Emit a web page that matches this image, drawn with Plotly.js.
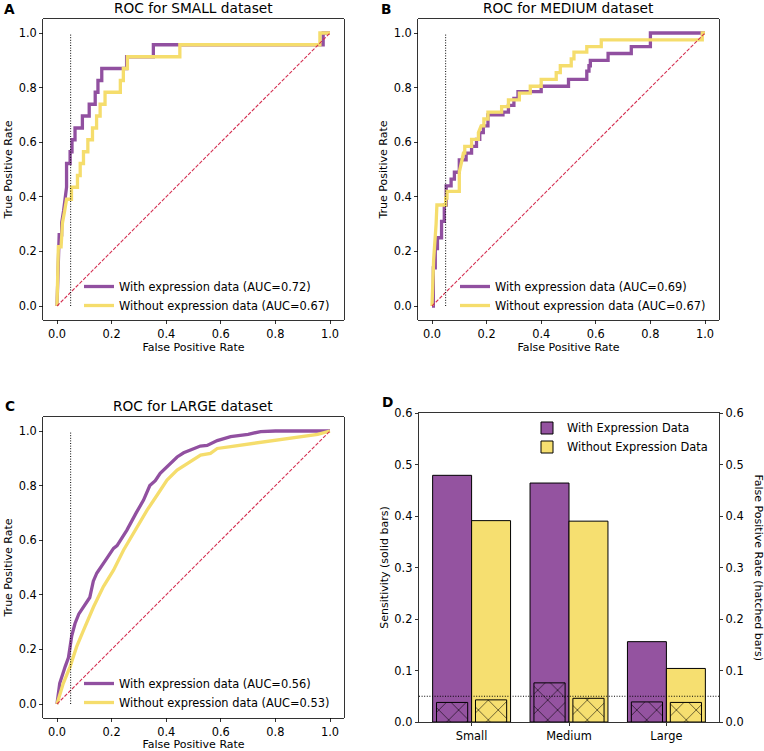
<!DOCTYPE html>
<html>
<head>
<meta charset="utf-8">
<script src="https://cdn.plot.ly/plotly-3.0.1.min.js"></script>
<style>html,body{margin:0;padding:0;background:#fff;}#chart{width:764px;height:751px;}</style>
</head>
<body>
<div id="chart"></div>
<script>
// ---------------- Data ----------------
const panelLetters = ['A', 'B', 'C', 'D'];
const rocTitles = ['ROC for SMALL dataset', 'ROC for MEDIUM dataset', 'ROC for LARGE dataset'];
const seriesWith = 'With expression data';
const seriesWithout = 'Without expression data';
const aucWith = [0.72, 0.69, 0.56];
const aucWithout = [0.67, 0.67, 0.53];
const xTitle = 'False Positive Rate';
const yTitle = 'True Positive Rate';
const fprThreshold = 0.05;
const diagX = [0, 1];
const diagY = [0, 1];

// Panel A (SMALL)
const smallWithFpr = [0, 0.004, 0.008, 0.017, 0.017, 0.024, 0.03, 0.035, 0.035, 0.048, 0.048, 0.055, 0.055, 0.066, 0.066, 0.093, 0.093, 0.118, 0.118, 0.14, 0.14, 0.15, 0.15, 0.164, 0.164, 0.255, 0.255, 0.353, 0.353, 0.975, 0.975, 1.0];
const smallWithTpr = [0, 0.13, 0.261, 0.261, 0.304, 0.348, 0.391, 0.435, 0.522, 0.522, 0.565, 0.565, 0.609, 0.609, 0.652, 0.652, 0.696, 0.696, 0.739, 0.739, 0.783, 0.783, 0.826, 0.826, 0.87, 0.87, 0.913, 0.913, 0.957, 0.957, 1.0, 1.0];
const smallWithoutFpr = [0, 0.005, 0.015, 0.02, 0.028, 0.035, 0.053, 0.053, 0.075, 0.075, 0.085, 0.085, 0.097, 0.097, 0.113, 0.113, 0.13, 0.13, 0.145, 0.145, 0.158, 0.158, 0.176, 0.176, 0.232, 0.232, 0.243, 0.243, 0.258, 0.258, 0.45, 0.45, 0.963, 0.963, 1.0];
const smallWithoutTpr = [0, 0.217, 0.217, 0.304, 0.348, 0.391, 0.391, 0.435, 0.435, 0.478, 0.478, 0.522, 0.522, 0.565, 0.565, 0.609, 0.609, 0.652, 0.652, 0.696, 0.696, 0.739, 0.739, 0.783, 0.783, 0.826, 0.826, 0.87, 0.87, 0.913, 0.913, 0.957, 0.957, 1.0, 1.0];

// Panel B (MEDIUM)
const mediumWithFpr = [0, 0.005, 0.005, 0.012, 0.012, 0.02, 0.02, 0.035, 0.035, 0.045, 0.045, 0.052, 0.052, 0.07, 0.07, 0.082, 0.082, 0.10, 0.10, 0.125, 0.125, 0.145, 0.145, 0.163, 0.163, 0.175, 0.175, 0.188, 0.188, 0.205, 0.205, 0.26, 0.26, 0.28, 0.28, 0.30, 0.30, 0.315, 0.315, 0.40, 0.40, 0.50, 0.50, 0.567, 0.567, 0.575, 0.575, 0.58, 0.58, 0.645, 0.645, 0.73, 0.73, 0.80, 0.80, 1.0];
const mediumWithTpr = [0, 0, 0.14, 0.14, 0.21, 0.21, 0.25, 0.25, 0.31, 0.31, 0.37, 0.37, 0.44, 0.44, 0.465, 0.465, 0.49, 0.49, 0.535, 0.535, 0.56, 0.56, 0.585, 0.585, 0.61, 0.61, 0.635, 0.635, 0.66, 0.66, 0.70, 0.70, 0.71, 0.71, 0.735, 0.735, 0.76, 0.76, 0.785, 0.785, 0.805, 0.805, 0.83, 0.83, 0.86, 0.86, 0.88, 0.88, 0.90, 0.90, 0.925, 0.925, 0.95, 0.95, 1.0, 1.0];
const mediumWithoutFpr = [0, 0.006, 0.015, 0.018, 0.05, 0.05, 0.055, 0.055, 0.10, 0.10, 0.11, 0.115, 0.12, 0.12, 0.145, 0.145, 0.17, 0.17, 0.18, 0.19, 0.19, 0.205, 0.205, 0.255, 0.255, 0.28, 0.28, 0.32, 0.32, 0.36, 0.36, 0.40, 0.40, 0.455, 0.455, 0.47, 0.47, 0.51, 0.51, 0.52, 0.52, 0.567, 0.567, 0.62, 0.62, 0.99, 0.99, 1.0];
const mediumWithoutTpr = [0, 0.17, 0.30, 0.37, 0.37, 0.395, 0.395, 0.42, 0.42, 0.49, 0.535, 0.56, 0.56, 0.585, 0.585, 0.61, 0.61, 0.635, 0.66, 0.66, 0.685, 0.685, 0.71, 0.71, 0.73, 0.73, 0.755, 0.755, 0.78, 0.78, 0.805, 0.805, 0.83, 0.83, 0.855, 0.855, 0.88, 0.88, 0.905, 0.905, 0.93, 0.93, 0.95, 0.95, 0.975, 0.975, 1.0, 1.0];

// Panel C (LARGE)
const largeWithFpr = [0, 0.01, 0.03, 0.042, 0.054, 0.066, 0.08, 0.097, 0.12, 0.133, 0.146, 0.18, 0.207, 0.22, 0.256, 0.29, 0.317, 0.34, 0.36, 0.378, 0.415, 0.44, 0.464, 0.49, 0.525, 0.55, 0.587, 0.636, 0.7, 0.746, 0.8, 0.9, 1.0];
const largeWithTpr = [0, 0.076, 0.137, 0.17, 0.25, 0.295, 0.33, 0.356, 0.39, 0.45, 0.48, 0.53, 0.57, 0.58, 0.637, 0.70, 0.747, 0.80, 0.818, 0.845, 0.88, 0.905, 0.92, 0.93, 0.945, 0.947, 0.965, 0.979, 0.988, 0.998, 1.0, 1.0, 1.0];
const largeWithoutFpr = [0, 0.023, 0.048, 0.072, 0.097, 0.134, 0.17, 0.207, 0.244, 0.28, 0.33, 0.37, 0.403, 0.44, 0.49, 0.526, 0.562, 0.587, 0.636, 0.7, 0.746, 0.8, 0.857, 0.955, 1.0];
const largeWithoutTpr = [0, 0.076, 0.137, 0.21, 0.27, 0.356, 0.43, 0.49, 0.564, 0.625, 0.71, 0.77, 0.82, 0.857, 0.89, 0.912, 0.918, 0.936, 0.943, 0.952, 0.96, 0.967, 0.975, 0.988, 1.0];

// Panel D (bars)
const barCategories = ['Small', 'Medium', 'Large'];
const barSeriesWith = 'With Expression Data';
const barSeriesWithout = 'Without Expression Data';
const sensitivityWith = [0.479, 0.464, 0.156];
const sensitivityWithout = [0.391, 0.390, 0.104];
const fprWith = [0.038, 0.076, 0.039];
const fprWithout = [0.043, 0.046, 0.038];
const leftTitleD = 'Sensitivity (solid bars)';
const rightTitleD = 'False Positive Rate (hatched bars)';

// ---------------- Style ----------------
const W = 764, H = 751;
const FONT = 'DejaVu Sans';
const PURPLE = '#9453a0';
const YELLOW = '#f6df70';
const PURPLE_LINE = '#9150a0';
const YELLOW_LINE = '#f5dd6c';
const DIAG = 'rgb(212,48,82)';
const TICK_SIZE = 11.4;
const LABEL_SIZE = 11;

function px2x(p) { return p / W; }
function px2y(p) { return 1 - p / H; }

const rocPanels = [
  { wf: smallWithFpr, wt: smallWithTpr, of: smallWithoutFpr, ot: smallWithoutTpr },
  { wf: mediumWithFpr, wt: mediumWithTpr, of: mediumWithoutFpr, ot: mediumWithoutTpr },
  { wf: largeWithFpr, wt: largeWithTpr, of: largeWithoutFpr, ot: largeWithoutTpr }
];
const axSuffix = ['', '2', '3'];
const legendIds = ['legend', 'legend2', 'legend3'];

const traces = [];
rocPanels.forEach((p, i) => {
  const xa = 'x' + axSuffix[i], ya = 'y' + axSuffix[i];
  traces.push({
    type: 'scatter', mode: 'lines', x: p.wf, y: p.wt, xaxis: xa, yaxis: ya,
    name: seriesWith + ' (AUC=' + aucWith[i].toFixed(2) + ')',
    line: { color: PURPLE_LINE, width: 3.3 }, legend: legendIds[i], showlegend: true
  });
  traces.push({
    type: 'scatter', mode: 'lines', x: p.of, y: p.ot, xaxis: xa, yaxis: ya,
    name: seriesWithout + ' (AUC=' + aucWithout[i].toFixed(2) + ')',
    line: { color: YELLOW_LINE, width: 3.3 }, legend: legendIds[i], showlegend: true
  });
  traces.push({
    type: 'scatter', mode: 'lines', x: diagX, y: diagY, xaxis: xa, yaxis: ya,
    line: { color: DIAG, width: 1.1, dash: '3.7px,1.6px' }, showlegend: false
  });
  traces.push({
    type: 'scatter', mode: 'lines', x: [fprThreshold, fprThreshold], y: [0, 1], xaxis: xa, yaxis: ya,
    line: { color: 'black', width: 1, dash: '1px,1.6px' }, showlegend: false
  });
});

traces.push({
  type: 'bar', x: barCategories, y: sensitivityWith, xaxis: 'x4', yaxis: 'y4',
  width: 0.4, offset: -0.4, name: barSeriesWith, legend: 'legend4',
  marker: { color: PURPLE, line: { color: 'black', width: 1 } }
});
traces.push({
  type: 'bar', x: barCategories, y: sensitivityWithout, xaxis: 'x4', yaxis: 'y4',
  width: 0.4, offset: 0, name: barSeriesWithout, legend: 'legend4',
  marker: { color: YELLOW, line: { color: 'black', width: 1 } }
});
traces.push({
  type: 'bar', x: barCategories, y: fprWith, xaxis: 'x4', yaxis: 'y5',
  width: 0.32, offset: -0.36, showlegend: false,
  marker: { color: PURPLE, line: { color: 'black', width: 1 },
    pattern: { shape: 'x', fgcolor: 'black', bgcolor: PURPLE, size: 14, solidity: 0.08, fillmode: 'replace' } }
});
traces.push({
  type: 'bar', x: barCategories, y: fprWithout, xaxis: 'x4', yaxis: 'y5',
  width: 0.32, offset: 0.04, showlegend: false,
  marker: { color: YELLOW, line: { color: 'black', width: 1 },
    pattern: { shape: 'x', fgcolor: 'black', bgcolor: YELLOW, size: 14, solidity: 0.08, fillmode: 'replace' } }
});

const baseAxis = {
  showline: true, mirror: true, linecolor: 'black', linewidth: 0.8,
  ticks: 'outside', ticklen: 3.5, tickwidth: 0.8, tickcolor: 'black',
  showgrid: false, zeroline: false, automargin: false,
  tickfont: { family: FONT, size: TICK_SIZE, color: 'black' }
};
function rocX(domain, anchor) {
  return Object.assign({}, baseAxis, {
    domain: domain, anchor: anchor, range: [-0.05, 1.05], tick0: 0, dtick: 0.2, tickformat: '.1f',
    title: { text: xTitle, font: { family: FONT, size: LABEL_SIZE, color: 'black' }, standoff: 3 }
  });
}
function rocY(domain, anchor) {
  return Object.assign({}, baseAxis, {
    domain: domain, anchor: anchor, range: [-0.05, 1.05], tick0: 0, dtick: 0.2, tickformat: '.1f',
    title: { text: yTitle, font: { family: FONT, size: LABEL_SIZE, color: 'black' }, standoff: 3 }
  });
}

const dxA = [px2x(43.35), px2x(343.65)];
const dxB = [px2x(418.35), px2x(718.65)];
const dyTop = [px2y(319.65), px2y(19.35)];
const dyC = [px2y(717.65), px2y(417.35)];
const dxD = [px2x(419), px2x(719)];
const dyD = [px2y(722), px2y(413)];

const legendBase = {
  xanchor: 'left', yanchor: 'top', bgcolor: 'rgba(255,255,255,0)', borderwidth: 0,
  font: { family: FONT, size: 11.4, color: 'black' }, itemwidth: 30, tracegroupgap: 0
};

const annotations = [];
const letterPos = [[9, 0], [386, 0], [10, 397], [387, 392.5]];
panelLetters.forEach((L, i) => {
  annotations.push({
    xref: 'paper', yref: 'paper', x: px2x(letterPos[i][0]), y: px2y(letterPos[i][1]),
    xanchor: 'center', yanchor: 'top', showarrow: false, borderpad: 0,
    text: '<b>' + L + '</b>', font: { family: FONT, size: 13.7, color: 'black' }
  });
});
rocTitles.forEach((t, i) => {
  annotations.push({
    xref: 'x' + axSuffix[i] + ' domain', yref: 'y' + axSuffix[i] + ' domain', x: 0.5, y: 1,
    xanchor: 'center', yanchor: 'bottom', yshift: 1, showarrow: false,
    text: t, font: { family: FONT, size: 13.7, color: 'black' }
  });
});
annotations.push({
  xref: 'paper', yref: 'y5 domain', x: px2x(758), y: 0.5, xanchor: 'center', yanchor: 'middle',
  textangle: 90, showarrow: false, text: rightTitleD, font: { family: FONT, size: LABEL_SIZE, color: 'black' }
});

const layout = {
  width: W, height: H, margin: { l: 0, r: 0, t: 0, b: 0 },
  paper_bgcolor: 'white', plot_bgcolor: 'white',
  font: { family: FONT, size: 11, color: 'black' },
  barmode: 'overlay', hovermode: false,
  xaxis: rocX(dxA, 'y'), yaxis: rocY(dyTop, 'x'),
  xaxis2: rocX(dxB, 'y2'), yaxis2: rocY(dyTop, 'x2'),
  xaxis3: rocX(dxA, 'y3'), yaxis3: rocY(dyC, 'x3'),
  xaxis4: Object.assign({}, baseAxis, { domain: dxD, anchor: 'y4', type: 'category', range: [-0.54, 2.54] }),
  yaxis4: Object.assign({}, baseAxis, { domain: dyD, anchor: 'x4', range: [0, 0.6], dtick: 0.1, tick0: 0, tickformat: '.1f', mirror: false,
    title: { text: leftTitleD, font: { family: FONT, size: LABEL_SIZE, color: 'black' }, standoff: 3 } }),
  yaxis5: Object.assign({}, baseAxis, { domain: dyD, anchor: 'x4', overlaying: 'y4', side: 'right', range: [0, 0.6], dtick: 0.1, tick0: 0, tickformat: '.1f', mirror: false }),
  legend: Object.assign({}, legendBase, { x: px2x(79), y: px2y(272) }),
  legend2: Object.assign({}, legendBase, { x: px2x(455), y: px2y(272) }),
  legend3: Object.assign({}, legendBase, { x: px2x(79), y: px2y(669) }),
  legend4: Object.assign({}, legendBase, { x: px2x(527), y: px2y(413.5) }),
  shapes: [{
    type: 'line', xref: 'x4 domain', yref: 'y5', x0: 0, x1: 1, y0: fprThreshold, y1: fprThreshold,
    line: { color: 'black', width: 1, dash: '1px,1.6px' }, layer: 'above'
  }],
  annotations: annotations
};

Plotly.newPlot('chart', traces, layout, { staticPlot: true, displayModeBar: false });
</script>
</body>
</html>
